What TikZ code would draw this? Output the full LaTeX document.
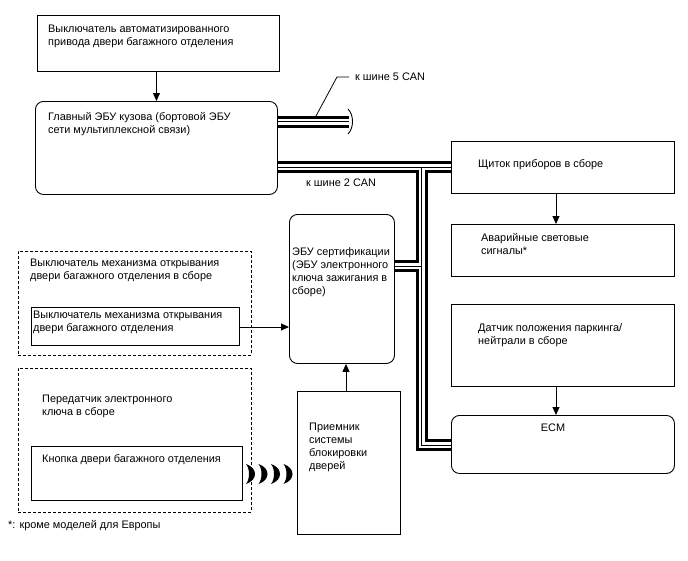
\documentclass[tikz,border=0pt]{standalone}
\usepackage{fontspec}
\setmainfont{Liberation Sans}
\usetikzlibrary{arrows.meta,backgrounds}
\begin{document}
\begin{tikzpicture}[x=1pt,y=-1pt,
  box/.style={draw,line width=0.9pt,inner sep=0pt,anchor=north west},
  rbox/.style={box,rounded corners=8pt},
  dbox/.style={draw,line width=0.9pt,dash pattern=on 3pt off 2pt,inner sep=0pt,anchor=north west},
  txt/.style={anchor=base west,inner sep=0pt,align=left,font=\fontsize{10.9}{13}\selectfont},
  arr/.style={line width=0.9pt,-{Triangle[length=8pt,width=7pt]}},
  thin/.style={line width=0.8pt}]
\begin{scope}[on background layer]
\fill[white] (0,0) rectangle (688,560);
\end{scope}
\useasboundingbox (0,0) rectangle (688,560);

% boxes
\node[box,minimum width=242pt,minimum height=56pt] (b1) at (37,15) {};
\node[rbox,minimum width=242pt,minimum height=93pt] (main) at (35,101) {};
\node[box,minimum width=223pt,minimum height=52pt] (panel) at (451,141) {};
\node[box,minimum width=223pt,minimum height=52pt] (hazard) at (451,224) {};
\node[rbox,minimum width=105pt,minimum height=149pt] (cert) at (289,214) {};
\node[box,minimum width=223pt,minimum height=82pt] (park) at (451,304) {};
\node[rbox,minimum width=223pt,minimum height=58pt] (ecm) at (451,415) {};
\node[dbox,minimum width=233pt,minimum height=104pt] (d1) at (18,251) {};
\node[box,minimum width=208pt,minimum height=38pt] (in1) at (31,307) {};
\node[dbox,minimum width=233pt,minimum height=144pt] (d2) at (18,368) {};
\node[box,minimum width=211pt,minimum height=54pt] (in2) at (31,446) {};
\node[box,minimum width=103pt,minimum height=143pt] (recv) at (297,391) {};

% texts (anchor = baseline of last line)
\node[txt] (t1) at (48,45) {Выключатель автоматизированного\\привода двери багажного отделения};
\node[txt] (tmain) at (48,133) {Главный ЭБУ кузова (бортовой ЭБУ\\сети мультиплексной связи)};
\node[txt] (tcan5) at (355,80) {к шине 5 CAN};
\node[txt] (tcan2) at (306,186) {к шине 2 CAN};
\node[txt] (tpanel) at (478,167) {Щиток приборов в сборе};
\node[txt] (thaz) at (481,254) {Аварийные световые\\сигналы*};
\node[txt] (tcert) at (292,294) {ЭБУ сертификации\\(ЭБУ электронного\\ключа зажигания в\\сборе)};
\node[txt] (tpark) at (478,344) {Датчик положения паркинга/\\нейтрали в сборе};
\node[txt] (td1) at (30,279) {Выключатель механизма открывания\\двери багажного отделения в сборе};
\node[txt] (tin1) at (33,331) {Выключатель механизма открывания\\двери багажного отделения};
\node[txt] (td2) at (42,415) {Передатчик электронного\\ключа в сборе};
\node[txt] (tin2) at (42,462) {Кнопка двери багажного отделения};
\node[txt] (trecv) at (309,469) {Приемник\\системы\\блокировки\\дверей};
\node[txt,anchor=base] (tecm) at (553,431) {ECM};
\node[txt] (tnote) at (8,528) {*: кроме моделей для Европы};

% coordinates
\coordinate (u1) at (349,121.5);
\coordinate (j1) at (421.5,167);
\coordinate (j2) at (421.5,445);
\coordinate (j3) at (421.5,266);
\coordinate (l0) at (316,116);
\coordinate (l1) at (337,77);
\coordinate (l2) at (349,77);
\coordinate (ax1) at (556,0);
\coordinate (ax2) at (346,0);
\coordinate (ay1) at (0,327);

% CAN buses
\begin{scope}[on background layer]
\foreach \w/\c in {12pt/black,6pt/white,0.8pt/black}{
  \draw[line width=\w,\c,line join=miter] (main.east |- u1) -- (u1);
  \draw[line width=\w,\c,line join=miter] (main.east |- j1) -- (panel.west |- j1);
  \draw[line width=\w,\c,line join=miter] (j1) -- (j2) -- (ecm.west |- j2);
  \draw[line width=\w,\c,line join=miter] (j3) -- (cert.east |- j3);
}
\end{scope}
\draw[line width=0.9pt] (348,109) .. controls (354,115) and (354,128) .. (348,134);
\draw[thin] (l0) -- (l1) -- (l2);

% arrows
\draw[arr] (b1.south -| main.north) -- (main.north);
\draw[arr] (panel.south -| ax1) -- (hazard.north -| ax1);
\draw[arr] (park.south -| ax1) -- (ecm.north -| ax1);
\draw[arr] (in1.east |- ay1) -- (cert.west |- ay1);
\draw[arr] (recv.north -| ax2) -- (cert.south -| ax2);

% radio waves
\foreach \x in {246,258.5,271,283.5}
  \fill (\x,464) .. controls (\x+12,468) and (\x+12,480) .. (\x,484) .. controls (\x+4,479) and (\x+4,469) .. cycle;
\end{tikzpicture}
\end{document}
